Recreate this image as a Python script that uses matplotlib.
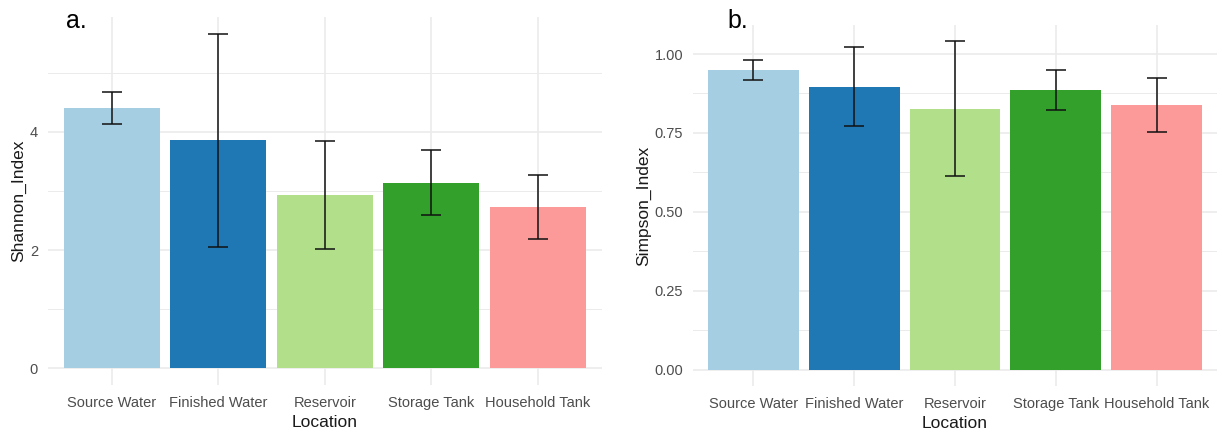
import numpy as np
import matplotlib
matplotlib.use("Agg")
from matplotlib import pyplot as plt
from matplotlib.ticker import MultipleLocator

plt.rcParams['font.family'] = ['Liberation Sans', 'DejaVu Sans']

# data
locations = ['Source Water', 'Finished Water', 'Reservoir', 'Storage Tank', 'Household Tank']
bar_colors = ['#A6CEE3', '#1F78B4', '#B2DF8A', '#33A02C', '#FB9A99']

shannon_mean = [4.41, 3.86, 2.93, 3.14, 2.73]
shannon_sd = [0.27, 1.80, 0.92, 0.55, 0.54]

simpson_mean = [0.949, 0.897, 0.827, 0.885, 0.839]
simpson_sd = [0.032, 0.125, 0.213, 0.063, 0.086]

W, H = 1222, 433
fig = plt.figure(figsize=(W / 100, H / 100), dpi=100)


def px_axes(x0, y0, x1, y1):
    # pixel box (left, top, right, bottom) -> figure fraction
    return fig.add_axes([x0 / W, 1 - y1 / H, (x1 - x0) / W, (y1 - y0) / H])


def panel(ax, means, sds, ylabel, major, minor, fmt, ylab_x):
    x = np.arange(1, len(locations) + 1)
    ax.bar(x, means, width=0.9, color=bar_colors, zorder=2)
    ax.errorbar(x, means, yerr=sds, fmt='none', ecolor='#111111', elinewidth=1.1,
                capsize=7.5, capthick=1.1, zorder=3)
    top = max(m + s for m, s in zip(means, sds))
    pad = top * 0.05
    ax.set_ylim(-pad, top + pad)
    ax.set_xlim(0.4, len(locations) + 0.6)
    ax.set_xticks(x)
    ax.set_xticklabels(locations)
    ax.yaxis.set_major_locator(MultipleLocator(major))
    ax.yaxis.set_minor_locator(MultipleLocator(minor))
    ax.yaxis.set_major_formatter(fmt)
    ax.grid(True, which='major', color='#EBEBEB', linewidth=1.2, zorder=0)
    ax.grid(True, which='minor', axis='y', color='#EBEBEB', linewidth=0.7, zorder=0)
    ax.set_axisbelow(True)
    for s in ax.spines.values():
        s.set_visible(False)
    ax.tick_params(which='both', length=0, labelsize=10.5, colors='#4D4D4D')
    ax.tick_params(axis='x', pad=8)
    ax.tick_params(axis='y', pad=7)
    ax.set_xlabel('Location', fontsize=12.5, color='#1A1A1A', va='center')
    ax.set_ylabel(ylabel, fontsize=12.5, color='#1A1A1A', va='center')
    ax.xaxis.set_label_coords(0.5, -0.103)
    ax.yaxis.set_label_coords(ylab_x, 0.5)
    return ax


ax1 = px_axes(47.7, 17, 602, 385)
panel(ax1, shannon_mean, shannon_sd, 'Shannon_Index', 2, 1, '{x:.0f}', -0.053)
ax2 = px_axes(693, 25, 1217, 386)
panel(ax2, simpson_mean, simpson_sd, 'Simpson_Index', 0.25, 0.125, '{x:.2f}', -0.095)

fig.text(66 / W, 1 - 28 / H, 'a.', fontsize=18, color='black', va='baseline')
fig.text(727 / W, 1 - 28 / H, 'b.', fontsize=18, color='black', va='baseline')

fig.savefig('out.png', dpi=100, facecolor='white')
